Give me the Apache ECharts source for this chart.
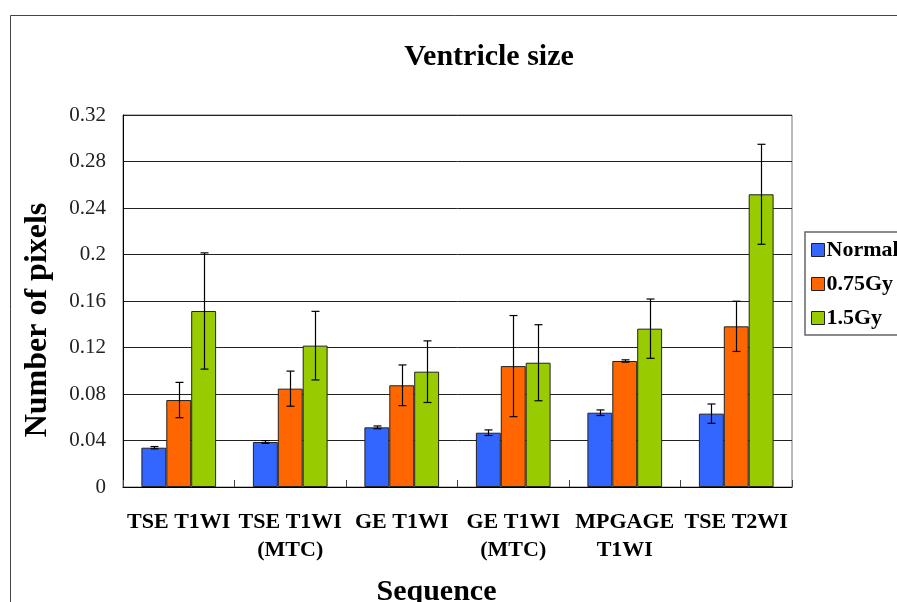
<!DOCTYPE html>
<html>
<head>
<meta charset="utf-8">
<script src="https://cdn.jsdelivr.net/npm/echarts@6/dist/echarts.min.js"></script>
<style>
html,body{margin:0;padding:0;background:#fff;}
#chart{width:897px;height:602px;}
</style>
</head>
<body>
<div id="chart"></div>
<script>
var categories = ['TSE T1WI', 'TSE T1WI\n(MTC)', 'GE T1WI', 'GE T1WI\n(MTC)', 'MPGAGE\nT1WI', 'TSE T2WI'];
var seriesNames = ['Normal', '0.75Gy', '1.5Gy'];
var normalValues = [0.0338, 0.0387, 0.0513, 0.0467, 0.0639, 0.0631];
var normalErrors = [0.0010, 0.0012, 0.0012, 0.0024, 0.0024, 0.0083];
var gy075Values = [0.0748, 0.0846, 0.0875, 0.1040, 0.1084, 0.1382];
var gy075Errors = [0.0152, 0.0151, 0.0175, 0.0435, 0.0010, 0.0216];
var gy15Values = [0.1514, 0.1216, 0.0992, 0.1069, 0.1362, 0.2518];
var gy15Errors = [0.0500, 0.0295, 0.0265, 0.0327, 0.0255, 0.0430];
var yMin = 0, yMax = 0.32, yInterval = 0.04;

var FONT = "'Liberation Serif', 'Times New Roman', serif";
var colors = ['#3366FF', '#FF6600', '#99CC00'];
var catGap = 0.33;
var allValues = [normalValues, gy075Values, gy15Values];
var allErrors = [normalErrors, gy075Errors, gy15Errors];

var series = [];
allValues.forEach(function (vals, s) {
  series.push({
    name: seriesNames[s],
    type: 'bar',
    data: vals,
    barGap: '0%',
    barCategoryGap: (catGap * 100) + '%',
    itemStyle: { color: colors[s], borderColor: '#222', borderWidth: 1 },
    z: 2
  });
});
allValues.forEach(function (vals, s) {
  series.push({
    type: 'custom',
    name: 'err' + s,
    z: 5,
    silent: true,
    data: vals.map(function (v, i) { return [i, v - allErrors[s][i], v + allErrors[s][i]]; }),
    renderItem: function (params, api) {
      var idx = api.value(0);
      var lo = api.coord([idx, api.value(1)]);
      var hi = api.coord([idx, api.value(2)]);
      var band = api.size([1, 0])[0];
      var barW = band * (1 - catGap) / 3;
      var cx = Math.round(lo[0] + (s - 1) * barW) + 0.5;
      var cap = 4;
      var st = { stroke: '#000', lineWidth: 1.2 };
      return {
        type: 'group',
        children: [
          { type: 'line', shape: { x1: cx, y1: hi[1], x2: cx, y2: lo[1] }, style: st },
          { type: 'line', shape: { x1: cx - cap, y1: hi[1], x2: cx + cap, y2: hi[1] }, style: st },
          { type: 'line', shape: { x1: cx - cap, y1: lo[1], x2: cx + cap, y2: lo[1] }, style: st }
        ]
      };
    }
  });
});

var chart = echarts.init(document.getElementById('chart'), null, { renderer: 'canvas' });
chart.setOption({
  animation: false,
  backgroundColor: '#fff',
  title: {
    text: 'Ventricle size',
    left: 484,
    textAlign: 'center',
    top: 37,
    textStyle: { fontFamily: FONT, fontWeight: 'bold', fontSize: 30, color: '#000' }
  },
  legend: {
    orient: 'vertical',
    left: 805,
    top: 232,
    data: seriesNames,
    icon: 'rect',
    itemWidth: 13,
    itemHeight: 13,
    itemGap: 12,
    padding: [7, 14, 6, 6],
    borderColor: '#666',
    borderWidth: 1.5,
    backgroundColor: '#fff',
    itemStyle: { borderColor: '#222', borderWidth: 1 },
    textStyle: { fontFamily: FONT, fontWeight: 'bold', fontSize: 22, color: '#000', lineHeight: 22, padding: [0, 0, 0, -3] }
  },
  grid: {
    left: 123, right: 105, top: 115, bottom: 115,
    outerBoundsMode: 'none',
    containLabel: false,
    show: true, borderColor: '#777', borderWidth: 1, backgroundColor: 'transparent'
  },
  xAxis: {
    type: 'category',
    data: categories,
    name: 'Sequence',
    nameLocation: 'middle',
    nameGap: 90,
    nameTextStyle: { fontFamily: FONT, fontWeight: 'bold', fontSize: 30, color: '#000', padding: [0, 42, 0, 0] },
    axisLine: { lineStyle: { color: '#000', width: 1 } },
    axisTick: { show: true, inside: true, length: 7, lineStyle: { color: '#444' } },
    axisLabel: { fontFamily: FONT, fontWeight: 'bold', fontSize: 22, color: '#000', lineHeight: 28, margin: 21, interval: 0 },
    splitLine: { show: false }
  },
  yAxis: {
    type: 'value',
    min: yMin, max: yMax, interval: yInterval,
    name: 'Number of pixels',
    nameLocation: 'middle',
    nameGap: 69,
    nameRotate: 90,
    nameTextStyle: { fontFamily: FONT, fontWeight: 'bold', fontSize: 32, color: '#000', padding: [0, 38, 0, 0] },
    axisLine: { show: true, lineStyle: { color: '#000', width: 1 } },
    axisTick: { show: false },
    axisLabel: {
      fontFamily: FONT, fontSize: 21, color: '#222', margin: 17,
      formatter: function (v) { return String(parseFloat(v.toFixed(2))); }
    },
    splitLine: { show: true, lineStyle: { color: '#222', width: 1 } }
  },
  graphic: [{
    type: 'rect',
    left: 8, top: 13,
    shape: { width: 1000, height: 1000 },
    style: { fill: 'none', stroke: '#444', lineWidth: 1 },
    silent: true
  }],
  series: series
});
</script>
</body>
</html>
